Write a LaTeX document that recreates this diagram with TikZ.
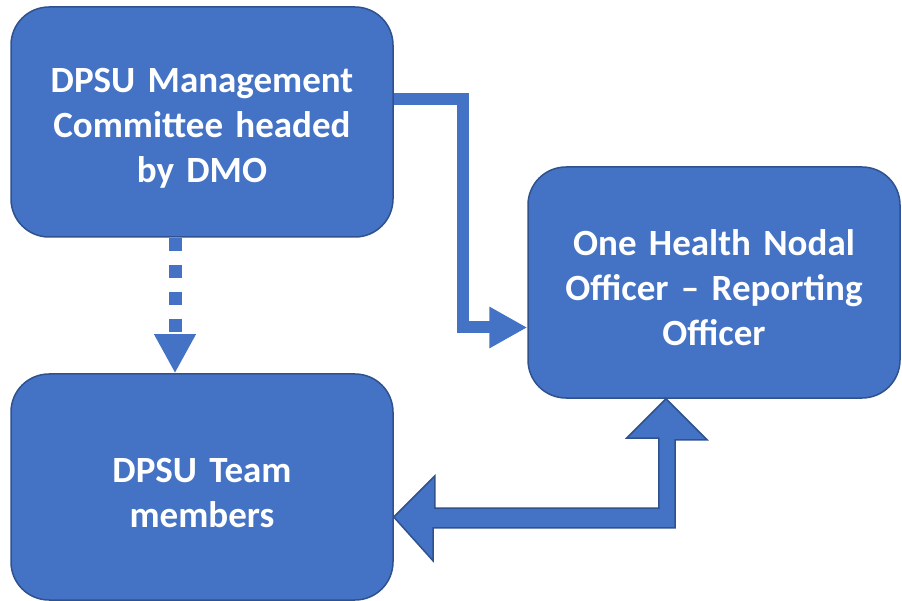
\documentclass[tikz,border=0pt]{standalone}
\usepackage{fontspec}
\setmainfont{Carlito}[WordSpace=0.8]
\usetikzlibrary{arrows.meta}

\definecolor{boxblue}{HTML}{4472C4}
\definecolor{edgeblue}{HTML}{2F528F}

\tikzset{
  unitbox/.style={draw=edgeblue, line width=1.5pt, fill=boxblue, rounded corners=38pt,
    text=white, font=\fontsize{37}{45}\selectfont\bfseries, align=center, text width=360pt,
    execute at begin node={\rule{0pt}{37pt}}},
  linkline/.style={draw=boxblue, line width=12pt, -{Triangle[length=38pt,width=39pt]}},
  dotline/.style={draw=boxblue, line width=13pt, dash pattern=on 13pt off 14pt,
    -{Triangle[length=39pt,width=39pt]}},
  blockarrow/.style={draw=edgeblue, line width=1.5pt, fill=boxblue, line join=miter}
}

\begin{document}
\begin{tikzpicture}[x=1pt,y=-1pt]
  \useasboundingbox (0,0) rectangle (902,601);

  \node[unitbox, minimum width=382pt, minimum height=230pt] (mgmt) at (202,122)
    {DPSU Management\\Committee headed\\by DMO};
  \node[unitbox, minimum width=382pt, minimum height=226pt] (team) at (202,487)
    {DPSU Team\\members};
  \node[unitbox, minimum width=372pt, minimum height=231pt] (nodal) at (714,282.5)
    {One Health Nodal\\Officer -- Reporting\\Officer};

  % reporting line
  \draw[linkline] ([yshift=23pt]mgmt.east) -- ++(69,0) |- ([yshift=-45pt]nodal.west);

  % dotted link down to the team
  \draw[dotline] ([xshift=-27pt]mgmt.south) -- ([xshift=-27pt]team.north);

  % two way block arrow
  \draw[blockarrow] ([yshift=-30pt]team.east) coordinate (tl)
    -- ++(41,-41) -- ++(0,32) -- ++(224,0) -- ++(0,-70) -- ++(-32,0)
    -- ([xshift=-48pt]nodal.south) coordinate (tu)
    -- ++(41,41) -- ++(-32,0) -- ++(0,88) -- ++(-242,0) -- ++(0,33) -- cycle;
\end{tikzpicture}
\end{document}
